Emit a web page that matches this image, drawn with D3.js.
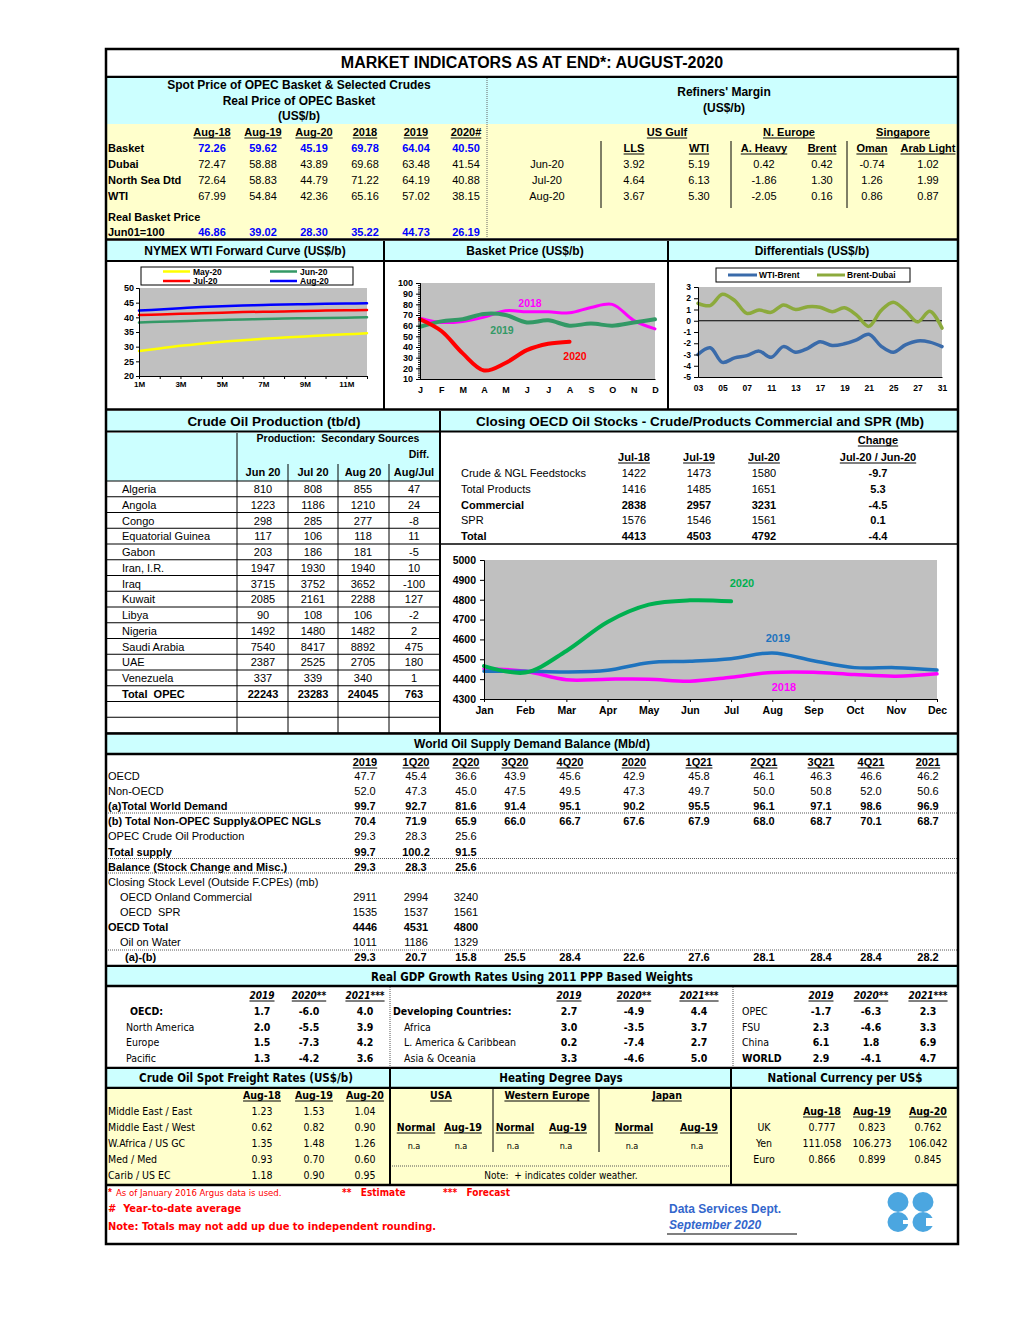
<!DOCTYPE html>
<html>
<head>
<meta charset="utf-8">
<script src="https://cdn.jsdelivr.net/npm/d3@7"></script>
<style>
body { margin: 0; background: #fff; }
svg text { white-space: pre; }
</style>
</head>
<body>
<svg id="chart"></svg>
<script>
//data
var title = "MARKET INDICATORS AS AT END*: AUGUST-2020";

var spotCols = ["Aug-18", "Aug-19", "Aug-20", "2018", "2019", "2020#"];
var spotNames = ["Basket", "Dubai", "North Sea Dtd", "WTI"];
var spotBasket = [72.26, 59.62, 45.19, 69.78, 64.04, 40.50];
var spotDubai = [72.47, 58.88, 43.89, 69.68, 63.48, 41.54];
var spotNorthSea = [72.64, 58.83, 44.79, 71.22, 64.19, 40.88];
var spotWTI = [67.99, 54.84, 42.36, 65.16, 57.02, 38.15];
var realBasket = [46.86, 39.02, 28.30, 35.22, 44.73, 26.19];

var marginRegions = ["US Gulf", "N. Europe", "Singapore"];
var marginCrudes = ["LLS", "WTI", "A. Heavy", "Brent", "Oman", "Arab Light"];
var marginMonths = ["Jun-20", "Jul-20", "Aug-20"];
var marginJun = [3.92, 5.19, 0.42, 0.42, -0.74, 1.02];
var marginJul = [4.64, 6.13, -1.86, 1.30, 1.26, 1.99];
var marginAug = [3.67, 5.30, -2.05, 0.16, 0.86, 0.87];

var fwdMonths = ["1M", "2M", "3M", "4M", "5M", "6M", "7M", "8M", "9M", "10M", "11M", "12M"];
var fwdNames = ["May-20", "Jun-20", "Jul-20", "Aug-20"];
var fwdMay = [28.5, 29.4, 30.3, 31.0, 31.7, 32.2, 32.7, 33.1, 33.5, 33.9, 34.2, 34.6];
var fwdJun = [38.2, 38.5, 38.7, 38.9, 39.1, 39.3, 39.4, 39.6, 39.7, 39.8, 39.9, 40.0];
var fwdJul = [40.8, 41.0, 41.2, 41.4, 41.6, 41.8, 41.9, 42.0, 42.2, 42.3, 42.4, 42.5];
var fwdAug = [42.3, 42.7, 43.1, 43.5, 43.8, 44.0, 44.2, 44.4, 44.5, 44.6, 44.7, 44.8];

var basketMonths = ["J", "F", "M", "A", "M", "J", "J", "A", "S", "O", "N", "D"];
var basket2018 = [67, 63, 64, 68, 74, 73, 73, 72, 77, 80, 65, 57];
var basket2019 = [59, 64, 66, 71, 70, 63, 65, 60, 62, 60, 63, 66];
var basket2020 = [66, 55, 34, 18, 25, 37, 43, 45];

var diffDays = ["03", "04", "05", "06", "07", "10", "11", "12", "13", "14", "17",
                "18", "19", "20", "21", "24", "25", "26", "27", "28", "31"];
var wtiBrent = [-3.0, -2.4, -3.7, -3.3, -3.1, -2.7, -3.25, -2.3, -2.8, -2.45, -1.86,
                -2.2, -2.05, -1.7, -1.2, -2.25, -2.8, -2.15, -1.8, -1.9, -2.3];
var brentDubai = [1.55, 1.35, 2.35, 1.8, 0.65, 0.95, 0.75, 1.4, 1.0, 1.25, 1.2,
                  0.8, 1.15, 0.5, -0.5, 0.9, 1.65, 0.9, -0.1, 0.85, -0.65];

var prodCols = ["Jun 20", "Jul 20", "Aug 20", "Aug/Jul"];
var prodCountries = ["Algeria", "Angola", "Congo", "Equatorial Guinea", "Gabon", "Iran, I.R.", "Iraq",
                     "Kuwait", "Libya", "Nigeria", "Saudi Arabia", "UAE", "Venezuela"];
var prodJun = [810, 1223, 298, 117, 203, 1947, 3715, 2085, 90, 1492, 7540, 2387, 337];
var prodJul = [808, 1186, 285, 106, 186, 1930, 3752, 2161, 108, 1480, 8417, 2525, 339];
var prodAug = [855, 1210, 277, 118, 181, 1940, 3652, 2288, 106, 1482, 8892, 2705, 340];
var prodDiff = [47, 24, -8, 11, -5, 10, -100, 127, -2, 2, 475, 180, 1];
var prodTotal = [22243, 23283, 24045, 763];

var stockCols = ["Jul-18", "Jul-19", "Jul-20"];
var stockRows = ["Crude & NGL Feedstocks", "Total Products", "Commercial", "SPR", "Total"];
var stockJul18 = [1422, 1416, 2838, 1576, 4413];
var stockJul19 = [1473, 1485, 2957, 1546, 4503];
var stockJul20 = [1580, 1651, 3231, 1561, 4792];
var stockChange = [-9.7, 5.3, -4.5, 0.1, -4.4];

var stockMonths = ["Jan", "Feb", "Mar", "Apr", "May", "Jun", "Jul", "Aug", "Sep", "Oct", "Nov", "Dec"];
var stocks2018 = [4452, 4440, 4397, 4400, 4400, 4390, 4410, 4434, 4435, 4423, 4415, 4427];
var stocks2019 = [4440, 4440, 4436, 4445, 4483, 4490, 4503, 4532, 4493, 4458, 4458, 4446];
var stocks2020 = [4466, 4433, 4542, 4688, 4775, 4797, 4792];

var balanceCols = ["2019", "1Q20", "2Q20", "3Q20", "4Q20", "2020", "1Q21", "2Q21", "3Q21", "4Q21", "2021"];
var balanceRows = ["OECD", "Non-OECD", "(a)Total World Demand", "(b) Total Non-OPEC Supply&OPEC NGLs",
                   "OPEC Crude Oil Production", "Total supply", "Balance (Stock Change and Misc.)",
                   "Closing Stock Level (Outside F.CPEs) (mb)", "OECD Onland Commercial", "OECD  SPR",
                   "OECD Total", "Oil on Water", "(a)-(b)"];
var balanceValues = [
    [47.7, 45.4, 36.6, 43.9, 45.6, 42.9, 45.8, 46.1, 46.3, 46.6, 46.2],
    [52.0, 47.3, 45.0, 47.5, 49.5, 47.3, 49.7, 50.0, 50.8, 52.0, 50.6],
    [99.7, 92.7, 81.6, 91.4, 95.1, 90.2, 95.5, 96.1, 97.1, 98.6, 96.9],
    [70.4, 71.9, 65.9, 66.0, 66.7, 67.6, 67.9, 68.0, 68.7, 70.1, 68.7],
    [29.3, 28.3, 25.6],
    [99.7, 100.2, 91.5],
    [29.3, 28.3, 25.6],
    [],
    [2911, 2994, 3240],
    [1535, 1537, 1561],
    [4446, 4531, 4800],
    [1011, 1186, 1329],
    [29.3, 20.7, 15.8, 25.5, 28.4, 22.6, 27.6, 28.1, 28.4, 28.4, 28.2]
];

var gdpCols = ["2019", "2020**", "2021***"];
var gdpOecdNames = ["OECD:", "North America", "Europe", "Pacific"];
var gdpOecd = [[1.7, -6.0, 4.0], [2.0, -5.5, 3.9], [1.5, -7.3, 4.2], [1.3, -4.2, 3.6]];
var gdpDevNames = ["Developing Countries:", "Africa", "L. America & Caribbean", "Asia & Oceania"];
var gdpDev = [[2.7, -4.9, 4.4], [3.0, -3.5, 3.7], [0.2, -7.4, 2.7], [3.3, -4.6, 5.0]];
var gdpOtherNames = ["OPEC", "FSU", "China", "WORLD"];
var gdpOther = [[-1.7, -6.3, 2.3], [2.3, -4.6, 3.3], [6.1, 1.8, 6.9], [2.9, -4.1, 4.7]];

var freightCols = ["Aug-18", "Aug-19", "Aug-20"];
var freightRoutes = ["Middle East / East", "Middle East / West", "W.Africa / US GC", "Med / Med", "Carib / US EC"];
var freightRates = [[1.23, 1.53, 1.04], [0.62, 0.82, 0.90], [1.35, 1.48, 1.26], [0.93, 0.70, 0.60], [1.18, 0.90, 0.95]];

var hddRegions = ["USA", "Western Europe", "Japan"];
var hddCols = ["Normal", "Aug-19", "Normal", "Aug-19", "Normal", "Aug-19"];
var hddValues = ["n.a", "n.a", "n.a", "n.a", "n.a", "n.a"];

var fxCols = ["Aug-18", "Aug-19", "Aug-20"];
var fxNames = ["UK", "Yen", "Euro"];
var fxRates = [["0.777", "0.823", "0.762"], ["111.058", "106.273", "106.042"], ["0.866", "0.899", "0.845"]];


//layout conf.
var FONT = '"Liberation Sans", Arial, sans-serif';
var NARROW = '"Liberation Sans Narrow", "Arial Narrow", "DejaVu Sans Condensed", sans-serif';
var CYAN = "#CCFFFF", YELLOW = "#FFFFCC", PLOT = "#C0C0C0";
var X0 = 106, X1 = 958;
var f2 = function(v) { return v.toFixed(2); },
    f1 = function(v) { return v.toFixed(1); },
    plain = function(v) { return String(v); };

var svg = d3.select("#chart").attr("width", 1020).attr("height", 1320);

function txt(x, y, s, o) {
    o = o || {};
    var t = svg.append("text")
        .attr("x", x).attr("y", y)
        .attr("text-anchor", o.anchor || "start")
        .style("font-family", o.family || FONT)
        .style("font-size", (o.size || 11) + "px")
        .style("font-weight", o.bold ? "bold" : "normal")
        .style("font-style", o.italic ? "italic" : "normal")
        .attr("fill", o.color || "#000")
        .text(s);
    if (o.underline) {
        var w = t.node().getComputedTextLength();
        var xs = o.anchor == "middle" ? x - w/2 : (o.anchor == "end" ? x - w : x);
        svg.append("line")
            .attr("x1", xs).attr("x2", xs + w)
            .attr("y1", y + 2).attr("y2", y + 2)
            .attr("stroke", o.color || "#000").attr("stroke-width", 1);
    }
    return t;
}

function box(x0, y0, x1, y1, fill) {
    svg.append("rect").attr("x", x0).attr("y", y0)
        .attr("width", x1 - x0).attr("height", y1 - y0).attr("fill", fill);
}

function hline(x0, x1, y, w, dash, color) {
    svg.append("line").attr("x1", x0).attr("x2", x1).attr("y1", y).attr("y2", y)
        .attr("stroke", color || "#000").attr("stroke-width", w || 1)
        .attr("stroke-dasharray", dash || null);
}

function vline(x, y0, y1, w, dash, color) {
    svg.append("line").attr("x1", x).attr("x2", x).attr("y1", y0).attr("y2", y1)
        .attr("stroke", color || "#000").attr("stroke-width", w || 1)
        .attr("stroke-dasharray", dash || null);
}

function styleAxis(g, size) {
    g.selectAll("text")
        .style("font-family", FONT).style("font-size", size + "px")
        .style("font-weight", "bold").attr("fill", "#000");
    g.selectAll("line, path").attr("stroke", "#000");
}

function drawLine(data, x, y, color, width) {
    svg.append("path")
        .datum(data)
        .attr("fill", "none")
        .attr("stroke", color)
        .attr("stroke-width", width)
        .attr("stroke-linecap", "round")
        .attr("d", d3.line()
            .x(function(d, i) { return x(i); })
            .y(function(d) { return y(d); })
            .curve(d3.curveCatmullRom.alpha(0.5)));
}


//title
box(X0, 49, X1, 76, "#fff");
txt(532, 68, title, {anchor: "middle", bold: true, size: 16});
hline(X0, X1, 77, 2.5);


//spot prices & refiners margin
box(X0, 78, X1, 124, CYAN);
box(X0, 124, X1, 238, YELLOW);
vline(487, 78, 238, 1, "1,1", "#666");

txt(299, 89, "Spot Price of OPEC Basket & Selected Crudes", {anchor: "middle", bold: true, size: 12});
txt(299, 105, "Real Price of OPEC Basket", {anchor: "middle", bold: true, size: 12});
txt(299, 120, "(US$/b)", {anchor: "middle", bold: true, size: 12});
txt(724, 96, "Refiners' Margin", {anchor: "middle", bold: true, size: 12});
txt(724, 112, "(US$/b)", {anchor: "middle", bold: true, size: 12});

var spotX = [212, 263, 314, 365, 416, 466];
spotCols.forEach(function(c, i) {
    txt(spotX[i], 136, c, {anchor: "middle", bold: true, underline: true});
});
[spotBasket, spotDubai, spotNorthSea, spotWTI].forEach(function(row, r) {
    var y = 152 + r*16;
    txt(108, y, spotNames[r], {bold: true});
    row.forEach(function(v, i) {
        if (r == 0) txt(spotX[i], y, f2(v), {anchor: "middle", bold: true, color: "#0000FF"});
        else txt(spotX[i], y, f2(v), {anchor: "middle"});
    });
});
txt(108, 221, "Real Basket Price", {bold: true});
txt(108, 236, "Jun01=100", {bold: true});
realBasket.forEach(function(v, i) {
    txt(spotX[i], 236, f2(v), {anchor: "middle", bold: true, color: "#0000FF"});
});

var regionX = [667, 789, 903];
marginRegions.forEach(function(r, i) {
    txt(regionX[i], 136, r, {anchor: "middle", bold: true, underline: true});
});
var marginX = [634, 699, 764, 822, 872, 928];
marginCrudes.forEach(function(c, i) {
    txt(marginX[i], 152, c, {anchor: "middle", bold: true, underline: true});
});
[marginJun, marginJul, marginAug].forEach(function(row, r) {
    var y = 168 + r*16;
    txt(547, y, marginMonths[r], {anchor: "middle"});
    row.forEach(function(v, i) {
        txt(marginX[i], y, f2(v), {anchor: "middle"});
    });
});
[601, 731, 847].forEach(function(x) { vline(x, 141, 208, 1); });
hline(X0, X1, 239.5, 2.5);


//chart titles row
box(X0, 241, X1, 260, CYAN);
txt(245, 255, "NYMEX WTI Forward Curve (US$/b)", {anchor: "middle", bold: true, size: 12});
txt(525, 255, "Basket Price (US$/b)", {anchor: "middle", bold: true, size: 12});
txt(812, 255, "Differentials (US$/b)", {anchor: "middle", bold: true, size: 12});
hline(X0, X1, 261, 2);
box(X0, 262, X1, 408, "#fff");
vline(384, 241, 409, 2);
vline(668, 241, 409, 2);


//NYMEX forward curve
var fx = d3.scaleLinear().domain([0, 11]).range([139, 367]);
var fy = d3.scaleLinear().domain([20, 50]).range([376, 288]);
box(139, 288, 367, 376, PLOT);
var fwdColors = ["#FFFF00", "#339966", "#FF0000", "#0000FF"];
[fwdMay, fwdJun, fwdJul, fwdAug].forEach(function(s, i) {
    drawLine(s, fx, fy, fwdColors[i], 2.5);
});
styleAxis(svg.append("g").attr("transform", "translate(139,0)")
    .call(d3.axisLeft(fy).tickValues(d3.range(20, 51, 5)).tickSize(3).tickPadding(2).tickFormat(plain)), 9);
styleAxis(svg.append("g").attr("transform", "translate(0,376)")
    .call(d3.axisBottom(fx).tickValues(d3.range(12)).tickSize(3).tickPadding(2)
        .tickFormat(function(i) { return i % 2 == 0 ? fwdMonths[i] : ""; })), 8);
svg.append("rect").attr("x", 141).attr("y", 267).attr("width", 212).attr("height", 18)
    .attr("fill", "#fff").attr("stroke", "#000").attr("stroke-width", 1);
fwdNames.forEach(function(n, i) {
    var lx = i % 2 == 0 ? 163 : 270, ly = i < 2 ? 271.5 : 281;
    hline(lx, lx + 27, ly, 2.5, null, fwdColors[i]);
    txt(lx + 30, ly + 3, n, {bold: true, size: 8.5});
});


//basket price
var bx = d3.scaleLinear().domain([0, 11]).range([420, 655]);
var by = d3.scaleLinear().domain([10, 100]).range([379, 283]);
box(420, 283, 655, 379, PLOT);
drawLine(basket2018, bx, by, "#FF00FF", 3);
drawLine(basket2019, bx, by, "#339966", 4);
drawLine(basket2020, bx, by, "#FF0000", 4);
styleAxis(svg.append("g").attr("transform", "translate(420,0)")
    .call(d3.axisLeft(by).tickValues(d3.range(10, 101, 2)).tickSize(2)
        .tickFormat(function() { return ""; })), 9);
styleAxis(svg.append("g").attr("transform", "translate(420,0)")
    .call(d3.axisLeft(by).tickValues(d3.range(10, 101, 10)).tickSize(4).tickPadding(3).tickFormat(plain)), 9);
styleAxis(svg.append("g").attr("transform", "translate(0,379)")
    .call(d3.axisBottom(bx).tickValues(d3.range(12)).tickSize(0).tickPadding(8)
        .tickFormat(function(i) { return basketMonths[i]; })), 9);
txt(530, 307, "2018", {anchor: "middle", bold: true, size: 10.5, color: "#FF00FF"});
txt(502, 334, "2019", {anchor: "middle", bold: true, size: 10.5, color: "#339966"});
txt(575, 360, "2020", {anchor: "middle", bold: true, size: 10.5, color: "#FF0000"});


//differentials
var dx = d3.scaleLinear().domain([0, 20]).range([698, 942]);
var dy = d3.scaleLinear().domain([-5, 3]).range([377, 287]);
box(698, 287, 942, 377, PLOT);
hline(698, 942, dy(0), 1);
drawLine(wtiBrent, dx, dy, "#3A6BAA", 3.5);
drawLine(brentDubai, dx, dy, "#8CAA3C", 3.5);
styleAxis(svg.append("g").attr("transform", "translate(698,0)")
    .call(d3.axisLeft(dy).tickValues(d3.range(-5, 4)).tickSize(4).tickPadding(3).tickFormat(plain)), 8.5);
styleAxis(svg.append("g").attr("transform", "translate(0,377)")
    .call(d3.axisBottom(dx).tickValues(d3.range(0, 21, 2)).tickSize(0).tickPadding(8)
        .tickFormat(function(i) { return diffDays[i]; })), 8.5);
svg.append("rect").attr("x", 716).attr("y", 268).attr("width", 194).attr("height", 14)
    .attr("fill", "#fff").attr("stroke", "#000").attr("stroke-width", 1);
hline(728, 757, 275, 3, null, "#3A6BAA");
txt(759, 278, "WTI-Brent", {bold: true, size: 8.5});
hline(817, 845, 275, 3, null, "#8CAA3C");
txt(847, 278, "Brent-Dubai", {bold: true, size: 8.5});
hline(X0, X1, 409.5, 2.5);


//crude oil production
box(X0, 411, X1, 431, CYAN);
txt(274, 426, "Crude Oil Production (tb/d)", {anchor: "middle", bold: true, size: 13.5});
txt(700, 426, "Closing OECD Oil Stocks - Crude/Products Commercial and SPR (Mb)", {anchor: "middle", bold: true, size: 13.5});
hline(X0, X1, 431.5, 2);
box(X0, 433, 440, 481, CYAN);
txt(338, 442, "Production:  Secondary Sources", {anchor: "middle", bold: true, size: 10.5});
txt(419, 458, "Diff.", {anchor: "middle", bold: true, size: 10.5});
var prodX = [263, 313, 363, 414];
prodCols.forEach(function(c, i) {
    txt(prodX[i], 476, c, {anchor: "middle", bold: true});
});
vline(237, 433, 733, 1);
[288, 338, 389].forEach(function(x) {
    vline(x, 464, 481, 1);
    vline(x, 481, 733, 1);
});
var rowH = 15.75;
for (var k = 0; k <= 16; k++) hline(X0, 440, 481 + k*rowH, 1);
prodCountries.forEach(function(c, i) {
    var y = 481 + i*rowH + 12;
    txt(122, y, c);
    [prodJun[i], prodJul[i], prodAug[i], prodDiff[i]].forEach(function(v, j) {
        txt(prodX[j], y, v, {anchor: "middle"});
    });
});
var totY = 481 + 13*rowH + 12;
txt(122, totY, "Total  OPEC", {bold: true});
prodTotal.forEach(function(v, j) {
    txt(prodX[j], totY, v, {anchor: "middle", bold: true});
});
vline(440, 411, 733, 2);


//OECD stocks table
txt(878, 444, "Change", {anchor: "middle", bold: true, underline: true});
var stockX = [634, 699, 764];
stockCols.forEach(function(c, i) {
    txt(stockX[i], 461, c, {anchor: "middle", bold: true, underline: true});
});
txt(878, 461, "Jul-20 / Jun-20", {anchor: "middle", bold: true, underline: true});
stockRows.forEach(function(r, i) {
    var y = 477 + i*15.8;
    var b = (r == "Commercial" || r == "Total");
    txt(461, y, r, {bold: b});
    [stockJul18[i], stockJul19[i], stockJul20[i]].forEach(function(v, j) {
        txt(stockX[j], y, v, {anchor: "middle", bold: b});
    });
    txt(878, y, f1(stockChange[i]), {anchor: "middle", bold: true});
});
hline(441, X1, 544, 1.5);


//OECD stocks chart
var sx = d3.scaleLinear().domain([0, 11]).range([484, 937]);
var sy = d3.scaleLinear().domain([4300, 5000]).range([699, 560]);
box(484, 560, 937, 699, PLOT);
drawLine(stocks2018, sx, sy, "#FF00FF", 3.5);
drawLine(stocks2019, sx, sy, "#1E73BE", 3.5);
drawLine(stocks2020, sx, sy, "#00B050", 4);
styleAxis(svg.append("g").attr("transform", "translate(484,0)")
    .call(d3.axisLeft(sy).tickValues(d3.range(4300, 5001, 100)).tickSize(4).tickPadding(4).tickFormat(plain)), 10.5);
styleAxis(svg.append("g").attr("transform", "translate(0,699)")
    .call(d3.axisBottom(sx).tickValues(d3.range(12)).tickSize(3).tickPadding(5)
        .tickFormat(function(i) { return stockMonths[i]; })), 10.5);
txt(742, 587, "2020", {anchor: "middle", bold: true, size: 11, color: "#00B050"});
txt(778, 642, "2019", {anchor: "middle", bold: true, size: 11, color: "#1E73BE"});
txt(784, 691, "2018", {anchor: "middle", bold: true, size: 11, color: "#FF00FF"});
hline(X0, X1, 733.5, 2.5);


//world oil supply demand balance
box(X0, 735, X1, 753, CYAN);
txt(532, 748, "World Oil Supply Demand Balance (Mb/d)", {anchor: "middle", bold: true, size: 12});
hline(X0, X1, 754, 2.5);
var balX = [365, 416, 466, 515, 570, 634, 699, 764, 821, 871, 928];
balanceCols.forEach(function(c, i) {
    txt(balX[i], 766, c, {anchor: "middle", bold: true, underline: true});
});
var boldRows = [2, 3, 5, 6, 10, 12];
var indent = {8: 120, 9: 120, 11: 120, 12: 125};
balanceRows.forEach(function(r, i) {
    var y = 780 + i*15.1;
    var b = boldRows.indexOf(i) >= 0;
    txt(indent[i] || 108, y, r, {bold: b});
    balanceValues[i].forEach(function(v, j) {
        txt(balX[j], y, (i >= 8 && i <= 11) ? v : f1(v), {anchor: "middle", bold: b});
    });
});
[813, 858.5, 873, 950].forEach(function(y) { hline(X0, X1, y, 1, "1,1", "#555"); });
hline(X0, X1, 966, 2.5);


//GDP growth
box(X0, 967, X1, 985, CYAN);
txt(532, 981, "Real GDP Growth Rates Using 2011 PPP Based Weights", {anchor: "middle", bold: true, size: 11.5, family: NARROW});
hline(X0, X1, 986, 2.5);
vline(390, 987, 1067, 1, "1,1", "#555");
vline(733, 987, 1067, 1, "1,1", "#555");
var gdpGroups = [
    {names: gdpOecdNames, vals: gdpOecd, lx: [130, 126], cols: [262, 309, 365], boldFirst: true},
    {names: gdpDevNames, vals: gdpDev, lx: [393, 404], cols: [569, 634, 699], boldFirst: true},
    {names: gdpOtherNames, vals: gdpOther, lx: [742, 742], cols: [821, 871, 928], boldFirst: false}
];
gdpGroups.forEach(function(g) {
    gdpCols.forEach(function(c, j) {
        txt(g.cols[j], 999, c, {anchor: "middle", bold: true, italic: true, underline: true, size: 10, family: NARROW});
    });
    g.names.forEach(function(n, i) {
        var y = 1015 + i*15.6;
        var b = (i == 0 && g.boldFirst) || n == "WORLD";
        txt(i == 0 ? g.lx[0] : g.lx[1], y, n, {bold: b, size: 10.5, family: NARROW});
        g.vals[i].forEach(function(v, j) {
            txt(g.cols[j], y, f1(v), {anchor: "middle", bold: true, size: 10.5, family: NARROW});
        });
    });
});
hline(X0, X1, 1068, 2.5);


//freight, heating degree days, currency
box(X0, 1069, X1, 1087, CYAN);
txt(246, 1082, "Crude Oil Spot Freight Rates (US$/b)", {anchor: "middle", bold: true, size: 11.5, family: NARROW});
txt(561, 1082, "Heating Degree Days", {anchor: "middle", bold: true, size: 11.5, family: NARROW});
txt(845, 1082, "National Currency per US$", {anchor: "middle", bold: true, size: 11.5, family: NARROW});
hline(X0, X1, 1088, 2.5);
box(X0, 1089, X1, 1184, YELLOW);

var freightX = [262, 314, 365];
freightCols.forEach(function(c, j) {
    txt(freightX[j], 1099, c, {anchor: "middle", bold: true, underline: true, size: 10.5, family: NARROW});
});
freightRoutes.forEach(function(r, i) {
    var y = 1115 + i*16;
    txt(108, y, r, {size: 10.5, family: NARROW});
    freightRates[i].forEach(function(v, j) {
        txt(freightX[j], y, f2(v), {anchor: "middle", size: 10.5, family: NARROW});
    });
});

var hddRegionX = [441, 547, 667];
hddRegions.forEach(function(r, i) {
    txt(hddRegionX[i], 1099, r, {anchor: "middle", bold: true, underline: true, size: 10.5, family: NARROW});
});
var hddX = [416, 463, 515, 568, 634, 699];
hddCols.forEach(function(c, j) {
    txt(hddX[j], 1131, c, {anchor: "middle", bold: true, underline: true, size: 10.5, family: NARROW});
    txt(hddX[j] - 2, 1149, hddValues[j], {anchor: "middle", size: 9, family: NARROW});
});
vline(493, 1089, 1152, 1);
vline(599, 1089, 1152, 1);
hline(390, 730, 1166, 1, "1,1", "#555");
txt(561, 1179, "Note:  + indicates colder weather.", {anchor: "middle", size: 10, family: NARROW});

var fxX = [822, 872, 928];
fxCols.forEach(function(c, j) {
    txt(fxX[j], 1115, c, {anchor: "middle", bold: true, underline: true, size: 10.5, family: NARROW});
});
fxNames.forEach(function(n, i) {
    var y = 1131 + i*16;
    txt(764, y, n, {anchor: "middle", size: 10.5, family: NARROW});
    fxRates[i].forEach(function(v, j) {
        txt(fxX[j], y, v, {anchor: "middle", size: 10.5, family: NARROW});
    });
});
vline(390, 1069, 1184, 2);
vline(731, 1069, 1184, 2);
hline(X0, X1, 1185, 2.5);


//footer
txt(108, 1196, "*", {bold: true, size: 10, color: "#FF0000"});
txt(116, 1196, "As of January 2016 Argus data is used.", {size: 9.5, color: "#FF0000", family: NARROW});
txt(342, 1196, "**   Estimate", {bold: true, size: 10, color: "#FF0000", family: NARROW});
txt(443, 1196, "***   Forecast", {bold: true, size: 10, color: "#FF0000", family: NARROW});
txt(108, 1212, "#  Year-to-date average", {bold: true, size: 11, color: "#FF0000", family: NARROW});
txt(108, 1230, "Note: Totals may not add up due to independent rounding.", {bold: true, size: 11, color: "#FF0000", family: NARROW});
txt(669, 1213, "Data Services Dept.", {bold: true, size: 12, color: "#3366CC"});
txt(669, 1229, "September 2020", {bold: true, italic: true, size: 12, color: "#3366CC"});
hline(667, 797, 1234, 1.2);

//logo
var logo = svg.append("g").attr("fill", "#4BA6E0");
logo.append("ellipse").attr("cx", 898).attr("cy", 1202).attr("rx", 10.5).attr("ry", 10);
logo.append("ellipse").attr("cx", 923).attr("cy", 1202).attr("rx", 10.5).attr("ry", 10);
logo.append("ellipse").attr("cx", 898).attr("cy", 1222).attr("rx", 10.5).attr("ry", 10);
logo.append("ellipse").attr("cx", 923).attr("cy", 1222).attr("rx", 10.5).attr("ry", 10);
svg.append("rect").attr("x", 903).attr("y", 1220).attr("width", 6).attr("height", 4).attr("fill", "#fff");
svg.append("rect").attr("x", 926).attr("y", 1218).attr("width", 9).attr("height", 8).attr("fill", "#fff");
svg.append("rect").attr("x", 909).attr("y", 1190).attr("width", 3).attr("height", 44).attr("fill", "#fff");

//outer frame
svg.append("rect").attr("x", X0).attr("y", 49).attr("width", X1 - X0).attr("height", 1195)
    .attr("fill", "none").attr("stroke", "#000").attr("stroke-width", 2.5);
</script>
</body>
</html>
